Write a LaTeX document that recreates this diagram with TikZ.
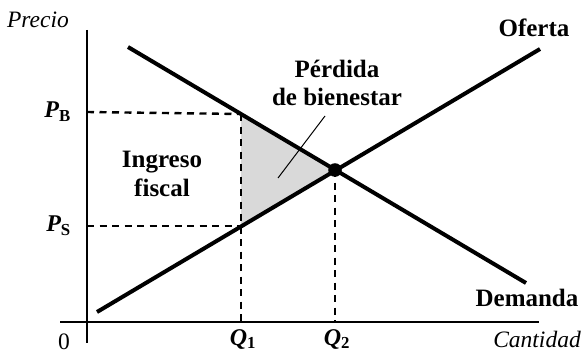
\documentclass[tikz,border=0pt]{standalone}
\usepackage{fontspec}
\setmainfont{Liberation Serif}
\begin{document}
\begin{tikzpicture}[x=1pt,y=-1pt,
  curve/.style={line width=4pt},
  axis/.style={line width=1.1pt},
  guide/.style={line width=2.4pt,dash pattern=on 7pt off 5.5pt},
  lbl/.style={font=\fontsize{25}{28.5}\selectfont\bfseries, inner sep=0pt, align=center},
  ilbl/.style={font=\fontsize{23.5}{26}\selectfont\itshape, inner sep=0pt},
  qlbl/.style={font=\fontsize{24}{26}\selectfont\bfseries\itshape, inner sep=0pt}]
\useasboundingbox (0,0) rectangle (585,353);
% coordinates
\coordinate (yt) at (87,30);
\coordinate (yb) at (87,343);
\coordinate (xl) at (60,322);
\coordinate (xr) at (539,322);
\coordinate (D1) at (128,47);
\coordinate (D2) at (526,283);
\coordinate (S1) at (97,312);
\coordinate (S2) at (540,49);
\coordinate (E) at (335,170);
\coordinate (A) at (241,114);
\coordinate (B) at (241,226);
\coordinate (PBa) at (87,112);
\coordinate (PSa) at (87,226);
\coordinate (Q1a) at (241,322);
\coordinate (Q2a) at (335,322);
\coordinate (Lt) at (325,116);
\coordinate (Lb) at (278,178);
% shaded triangle
\fill[gray!30] (A) -- (E) -- (B) -- cycle;
% axes
\draw[axis] (yt) -- (yb);
\draw[axis] (xl) -- (xr);
% guides
\draw[guide] (PBa) -- (A);
\draw[guide] (PSa) -- (B);
\draw[guide] (A) -- (Q1a);
\draw[guide] (E) -- (Q2a);
% curves
\draw[curve] (D1) -- (D2);
\draw[curve] (S1) -- (S2);
\fill (E) circle (6.8pt);
% leader
\draw[line width=1pt] (Lt) -- (Lb);
% labels
\node[ilbl] (precio) at (38,20) {Precio};
\node[ilbl] (cant) at (537,339) {Cantidad};
\node[font=\fontsize{23.5}{26}\selectfont, inner sep=0pt, anchor=base] (zero) at (64,349) {0};
\node[lbl] (oferta) at (534,28) {Oferta};
\node[lbl] (demanda) at (527,298) {Demanda};
\node[lbl] (perdida) at (337,83) {Pérdida\\de bienestar};
\node[lbl] (ingreso) at (162,174) {Ingreso\\fiscal};
\node[qlbl, anchor=east] (pb) at (71,112) {P\textsubscript{\normalfont\bfseries B}};
\node[qlbl, anchor=east] (ps) at (71,226) {P\textsubscript{\normalfont\bfseries S}};
\node[qlbl] (q1) at (243,339) {Q\textsubscript{\normalfont\bfseries 1}};
\node[qlbl] (q2) at (337,339) {Q\textsubscript{\normalfont\bfseries 2}};
\end{tikzpicture}
\end{document}
